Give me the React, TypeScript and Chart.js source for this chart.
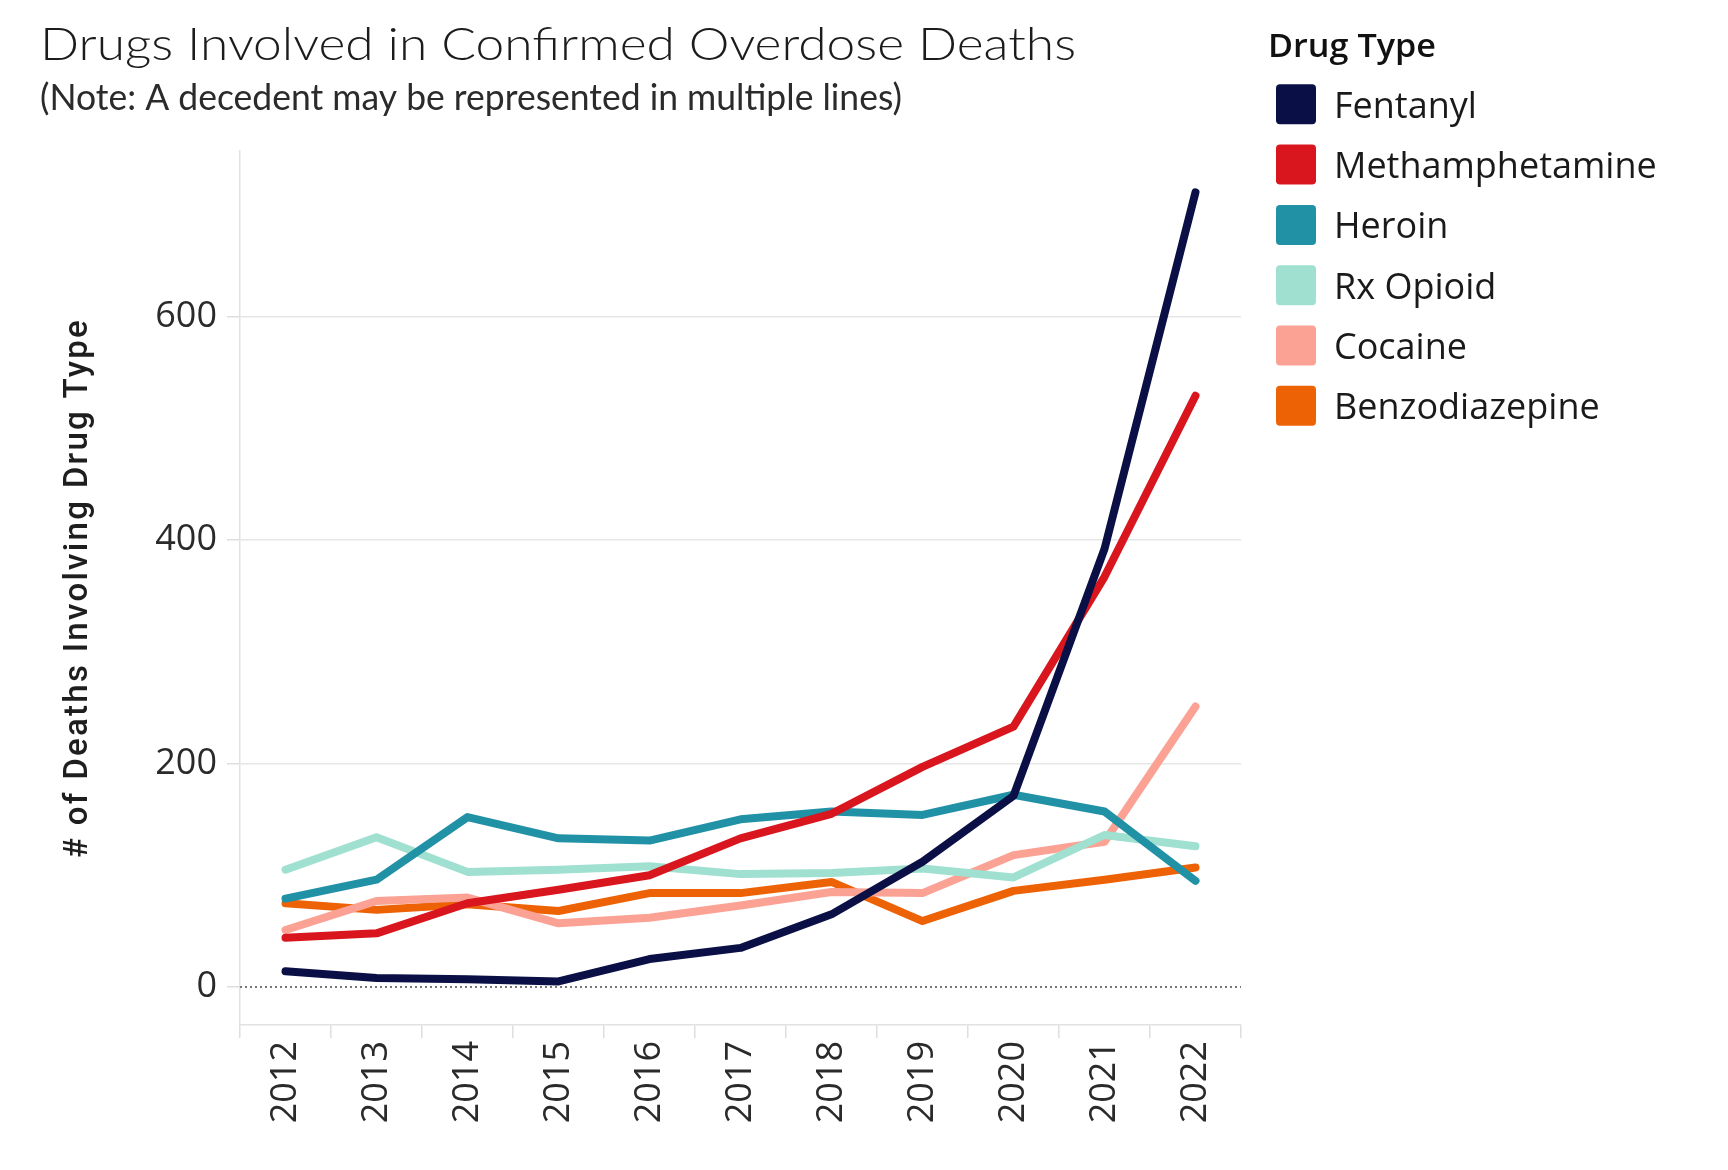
import React, { useEffect, useRef } from 'react';
import { Chart, registerables } from 'chart.js';

Chart.register(...registerables);

// ---- data ----
const years = ['2012', '2013', '2014', '2015', '2016', '2017', '2018', '2019', '2020', '2021', '2022'];
const fentanyl = [14, 8, 7, 5, 25, 35, 65, 112, 171, 392, 711];
const methamphetamine = [44, 48, 75, 87, 100, 133, 155, 197, 233, 367, 529];
const heroin = [79, 96, 152, 133, 131, 150, 157, 154, 172, 157, 95];
const rxOpioid = [105, 134, 103, 105, 108, 101, 102, 106, 98, 136, 126];
const cocaine = [51, 77, 80, 57, 62, 73, 85, 84, 118, 130, 251];
const benzodiazepine = [75, 69, 74, 68, 84, 84, 94, 59, 86, 96, 107];

const seriesNames = ['Fentanyl', 'Methamphetamine', 'Heroin', 'Rx Opioid', 'Cocaine', 'Benzodiazepine'];
const seriesValues = [fentanyl, methamphetamine, heroin, rxOpioid, cocaine, benzodiazepine];
const seriesColors = ['#0a1045', '#d9161e', '#2191a5', '#9fe0d0', '#fba295', '#ee6206'];

const yTickValues = [0, 200, 400, 600];
const chartTitle = 'Drugs Involved in Confirmed Overdose Deaths';
const chartSubtitle = '(Note: A decedent may be represented in multiple lines)';
const legendTitle = 'Drug Type';
const yAxisTitle = '# of Deaths Involving Drug Type';

function fillFitted(ctx: CanvasRenderingContext2D, text: string, x: number, y: number, width: number, spaced = false) {
  const c: any = ctx;
  ctx.save();
  if (spaced && 'letterSpacing' in c) {
    c.letterSpacing = '0px';
    const w0 = ctx.measureText(text).width;
    const extra = (width - w0) / text.length;
    if (extra > 0) c.letterSpacing = extra.toFixed(2) + 'px';
  }
  const w = ctx.measureText(text).width;
  ctx.translate(x, y);
  ctx.scale(width / w, 1);
  ctx.fillText(text, 0, 0);
  ctx.restore();
}

const decorPlugin = {
  id: 'decor',
  beforeDatasetsDraw(chart: any) {
    const { ctx, chartArea } = chart;
    const y0 = chart.scales.y.getPixelForValue(0);
    ctx.save();
    ctx.strokeStyle = '#777777';
    ctx.lineWidth = 2;
    ctx.setLineDash([2, 3]);
    ctx.beginPath();
    ctx.moveTo(chartArea.left, y0);
    ctx.lineTo(chartArea.right, y0);
    ctx.stroke();
    ctx.restore();
  },
  afterDraw(chart: any) {
    const { ctx, chartArea } = chart;
    ctx.save();
    ctx.textAlign = 'left';
    ctx.textBaseline = 'alphabetic';
    ctx.fillStyle = '#1c1c1c';
    ctx.font = '300 46px Lato';
    fillFitted(ctx, chartTitle, 40, 60, 1036);
    ctx.fillStyle = '#2b2b2b';
    ctx.font = '400 36px Lato';
    fillFitted(ctx, chartSubtitle, 40, 110, 862);

    // y axis title (rotated)
    ctx.save();
    const cy = (chartArea.top + chartArea.bottom) / 2;
    ctx.translate(87, cy);
    ctx.rotate(-Math.PI / 2);
    ctx.fillStyle = '#1e1e1e';
    ctx.font = '500 33px Roboto';
    fillFitted(ctx, yAxisTitle, -270, 0, 540, true);
    ctx.restore();

    // legend
    ctx.fillStyle = '#111';
    ctx.font = '600 32px "Open Sans"';
    fillFitted(ctx, legendTitle, 1268, 57, 168);
    const boxX = 1276;
    const box = 40;
    chart.data.datasets.forEach((ds: any, i: number) => {
      const ry = 104.3 + 60.3 * i;
      ctx.fillStyle = ds.borderColor;
      ctx.beginPath();
      if ((ctx as any).roundRect) {
        (ctx as any).roundRect(boxX, ry - box / 2, box, box, 4);
      } else {
        ctx.rect(boxX, ry - box / 2, box, box);
      }
      ctx.fill();
      ctx.fillStyle = '#1a1a1a';
      ctx.font = '400 36px "Open Sans"';
      ctx.fillText(ds.label, 1334, ry + 13.5);
    });
    ctx.restore();
  },
};

export default function App() {
  const canvasRef = useRef<HTMLCanvasElement | null>(null);

  useEffect(() => {
    if (!canvasRef.current) return;
    const tickFont = { family: '"Open Sans"', size: 36, weight: '400' as const };
    const chart = new Chart(canvasRef.current, {
      type: 'line',
      data: {
        labels: years,
        datasets: seriesNames.map((name, i) => ({
          label: name,
          data: seriesValues[i],
          borderColor: seriesColors[i],
          backgroundColor: seriesColors[i],
          borderWidth: 8,
          pointRadius: 0,
          pointHoverRadius: 0,
          borderCapStyle: 'round' as const,
          borderJoinStyle: 'round' as const,
          tension: 0,
          fill: false,
        })),
      },
      options: {
        animation: false,
        responsive: true,
        maintainAspectRatio: false,
        events: [],
        layout: { padding: { left: 40, top: 151, right: 487, bottom: 0 } },
        plugins: {
          legend: { display: false },
          title: { display: false },
          tooltip: { enabled: false },
        },
        scales: {
          x: {
            type: 'category',
            offset: true,
            afterFit: (s: any) => {
              s.height = 145;
            },
            grid: {
              display: true,
              drawOnChartArea: false,
              drawTicks: true,
              tickLength: 13,
              color: '#dedede',
              lineWidth: 1.5,
              offset: true,
            },
            border: { display: true, color: '#e2e2e2', width: 1.5 },
            ticks: {
              font: tickFont,
              color: '#2a2a2a',
              maxRotation: 90,
              minRotation: 90,
              padding: 3,
              autoSkip: false,
            },
          },
          y: {
            type: 'linear',
            min: -34,
            max: 748,
            afterBuildTicks: (s: any) => {
              s.ticks = yTickValues.map((v) => ({ value: v }));
            },
            afterFit: (s: any) => {
              s.width = 200;
            },
            grid: {
              color: (c: any) => (c.tick && c.tick.value === 0 ? 'rgba(0,0,0,0)' : '#e6e6e6'),
              lineWidth: 1.5,
              tickLength: 13,
              tickColor: '#dedede',
              tickWidth: 1.5,
            },
            border: { display: true, color: '#e2e2e2', width: 1.5 },
            ticks: {
              font: tickFont,
              color: '#2a2a2a',
              padding: 10,
            },
            title: { display: false },
          },
        },
      },
      plugins: [decorPlugin],
    });
    return () => {
      chart.destroy();
    };
  }, []);

  return (
    <div
      style={{
        position: 'fixed',
        left: 0,
        top: 0,
        width: 1728,
        height: 1170,
        background: '#ffffff',
      }}
    >
      <canvas ref={canvasRef} aria-label={`${chartTitle} — ${yAxisTitle}`} />
    </div>
  );
}
